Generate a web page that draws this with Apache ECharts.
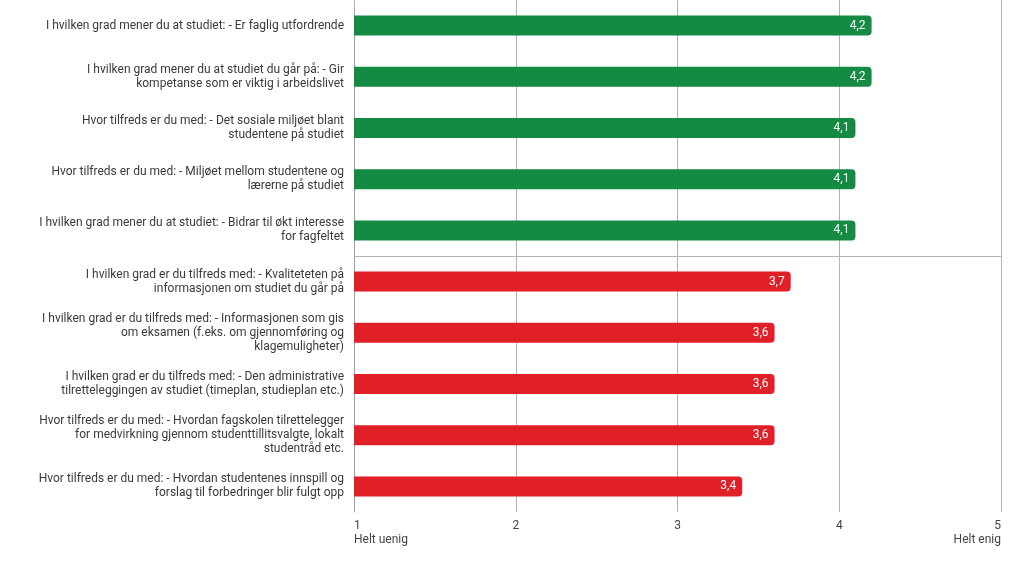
<!DOCTYPE html>
<html>
<head>
<meta charset="utf-8">
<script src="https://cdn.jsdelivr.net/npm/echarts@6/dist/echarts.min.js"></script>
<style>html,body{margin:0;padding:0;background:#fff}#c{width:1024px;height:562px}</style>
</head>
<body>
<div id="c"></div>
<script>
const categories = [
  "I hvilken grad mener du at studiet: - Er faglig utfordrende",
  "I hvilken grad mener du at studiet du går på: - Gir\nkompetanse som er viktig i arbeidslivet",
  "Hvor tilfreds er du med: - Det sosiale miljøet blant\nstudentene på studiet",
  "Hvor tilfreds er du med: - Miljøet mellom studentene og\nlærerne på studiet",
  "I hvilken grad mener du at studiet: - Bidrar til økt interesse\nfor fagfeltet",
  "I hvilken grad er du tilfreds med: - Kvaliteteten på\ninformasjonen om studiet du går på",
  "I hvilken grad er du tilfreds med: - Informasjonen som gis\nom eksamen (f.eks. om gjennomføring og\nklagemuligheter)",
  "I hvilken grad er du tilfreds med: - Den administrative\ntilretteleggingen av studiet (timeplan, studieplan etc.)",
  "Hvor tilfreds er du med: - Hvordan fagskolen tilrettelegger\nfor medvirkning gjennom studenttillitsvalgte, lokalt\nstudentråd etc.",
  "Hvor tilfreds er du med: - Hvordan studentenes innspill og\nforslag til forbedringer blir fulgt opp"
];
const values = [4.2, 4.2, 4.1, 4.1, 4.1, 3.7, 3.6, 3.6, 3.6, 3.4];
const tickLabels = {1: "1\nHelt uenig", 2: "2", 3: "3", 4: "4", 5: "5\nHelt enig"};
const GREEN = '#148a42', RED = '#e01f27';
const separatorAfterCount = 5; // line drawn after the first 5 rows

const chart = echarts.init(document.getElementById('c'));
chart.setOption({
  animation: false,
  textStyle: {fontFamily: 'Roboto'},
  grid: {left: 354, right: 23, top: 0, bottom: 50, containLabel: false},
  xAxis: {
    type: 'value', min: 1, max: 5, interval: 1,
    axisLine: {show: false},
    axisTick: {show: true, length: 10, lineStyle: {color: '#b4b4b4'}},
    splitLine: {show: true, lineStyle: {color: '#b4b4b4', width: 1}},
    axisLabel: {
      color: '#444', fontSize: 12, lineHeight: 14, margin: 7,
      alignMinLabel: 'left', alignMaxLabel: 'right',
      formatter: v => tickLabels[v] || String(v)
    }
  },
  yAxis: [{
    type: 'category', data: categories, inverse: true,
    axisLine: {show: true, lineStyle: {color: '#a0a0a0'}},
    axisTick: {show: false},
    splitLine: {show: false},
    axisLabel: {color: '#3a3a3a', fontSize: 12, lineHeight: 14, margin: 10, align: 'right'}
  }, {
    type: 'value', min: 0, max: categories.length, inverse: true, show: false,
    splitLine: {show: false}
  }],
  series: [{
    type: 'bar', data: values, barWidth: 20, yAxisIndex: 0,
    itemStyle: {
      borderRadius: [0, 4, 4, 0],
      color: p => p.value >= 4 ? GREEN : RED
    },
    label: {
      show: true, position: 'insideRight', distance: 6,
      color: '#fff', fontSize: 12,
      formatter: p => String(p.value).replace('.', ',')
    }
  }, {
    type: 'line', yAxisIndex: 1, data: [], silent: true,
    markLine: {
      silent: true, symbol: 'none', label: {show: false},
      lineStyle: {color: '#b4b4b4', type: 'solid', width: 1},
      data: [{yAxis: separatorAfterCount}]
    }
  }]
});
</script>
</body>
</html>
